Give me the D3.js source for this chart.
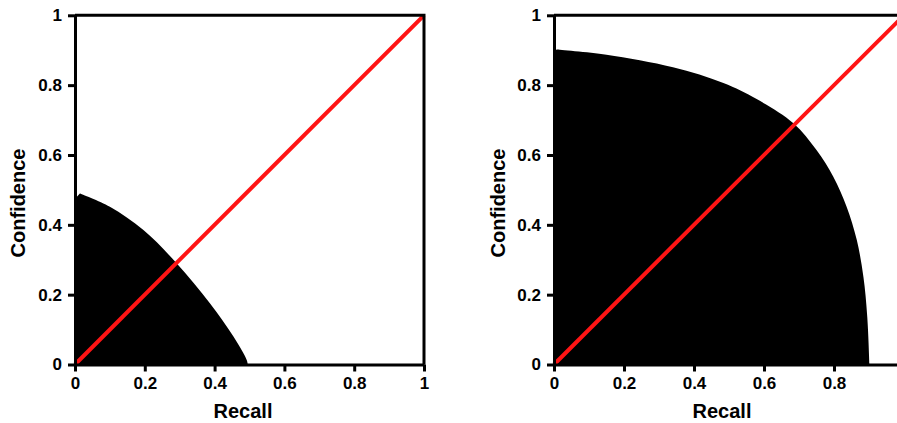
<!DOCTYPE html>
<html>
<head>
<meta charset="utf-8">
<script src="https://cdn.jsdelivr.net/npm/d3@7"></script>
<style>
  html, body { margin: 0; padding: 0; background: #fff; }
  svg { display: block; }
  text { font-family: "Liberation Sans", Arial, sans-serif; font-weight: bold; fill: #000; }
</style>
</head>
<body>
<svg id="chart" width="897" height="423"></svg>
<script>
// ---- data ----
const xTicks = [0, 0.2, 0.4, 0.6, 0.8, 1];
const yTicks = [0, 0.2, 0.4, 0.6, 0.8, 1];
const xTitle = "Recall";
const yTitle = "Confidence";
// outer boundary of the black point cloud, [recall, confidence]
const leftEdge = [[0, 0], [0, 0.475], [0.014, 0.49]];
const leftBoundary = [
  [0.014, 0.49], [0.10, 0.452], [0.196, 0.385], [0.291, 0.29],
  [0.387, 0.175], [0.454, 0.08], [0.492, 0.013], [0.495, 0]
];
const rightEdge = [[0, 0], [0, 0.898], [0.008, 0.902]];
const rightBoundary = [
  [0.008, 0.902], [0.15, 0.887], [0.34, 0.851], [0.484, 0.806], [0.579, 0.76],
  [0.684, 0.691], [0.75, 0.614], [0.798, 0.538], [0.836, 0.452], [0.865, 0.357],
  [0.884, 0.251], [0.895, 0.137], [0.901, 0.003], [0.901, 0]
];
const diagonal = [[0, 0], [1, 1]];

// ---- layout ----
const W = 897;
const svg = d3.select("#chart");
const panels = [
  { x0: 75, x1: 424, edge: leftEdge, boundary: leftBoundary, ytx: 25, xtx: 243 },
  { x0: 554, x1: 904, edge: rightEdge, boundary: rightBoundary, ytx: 505, xtx: 722 }
];
const yTop = 15.3, yBot = 364.5;

panels.forEach(p => {
  const x = d3.scaleLinear().domain([0, 1]).range([p.x0, p.x1]);
  const y = d3.scaleLinear().domain([0, 1]).range([yBot, yTop]);
  const g = svg.append("g");

  // black point cloud region
  const straight = d3.line().x(d => x(d[0])).y(d => y(d[1]));
  const curve = d3.line().x(d => x(d[0])).y(d => y(d[1])).curve(d3.curveCatmullRom);
  g.append("path")
    .attr("d", straight(p.edge) + curve(p.boundary).replace(/^M/, "L") + "Z")
    .attr("fill", "#000");

  // red diagonal
  g.append("path")
    .attr("d", straight(diagonal))
    .attr("stroke", "#ff1414").attr("stroke-width", 4).attr("fill", "none");

  // box top/right
  g.append("path")
    .attr("d", `M${x(0)},${y(1)}H${x(1)}V${y(0)}`)
    .attr("stroke", "#000").attr("stroke-width", 3).attr("fill", "none");

  const fmt = d => d3.format("~g")(d);
  const visX = xTicks.filter(t => x(t) < W - 4);
  const xa = g.append("g").attr("transform", `translate(0,${yBot})`)
    .call(d3.axisBottom(x).tickValues(visX).tickFormat(fmt).tickSize(7).tickSizeOuter(0).tickPadding(5));
  const ya = g.append("g").attr("transform", `translate(${x(0)},0)`)
    .call(d3.axisLeft(y).tickValues(yTicks).tickFormat(fmt).tickSize(7).tickSizeOuter(0).tickPadding(6));
  [xa, ya].forEach(a => {
    a.select(".domain").attr("stroke", "#000").attr("stroke-width", 3);
    a.selectAll(".tick line").attr("stroke", "#000").attr("stroke-width", 3);
    a.selectAll(".tick text").style("font-size", "17px").style("font-weight", "bold")
      .style("font-family", "'Liberation Sans', Arial, sans-serif").attr("fill", "#000");
  });

  g.append("text").attr("x", p.xtx).attr("y", 418).attr("text-anchor", "middle")
    .style("font-size", "20px").text(xTitle);
  g.append("text").attr("transform", `translate(${p.ytx},203) rotate(-90)`)
    .attr("text-anchor", "middle").style("font-size", "20px").text(yTitle);
});
</script>
</body>
</html>
